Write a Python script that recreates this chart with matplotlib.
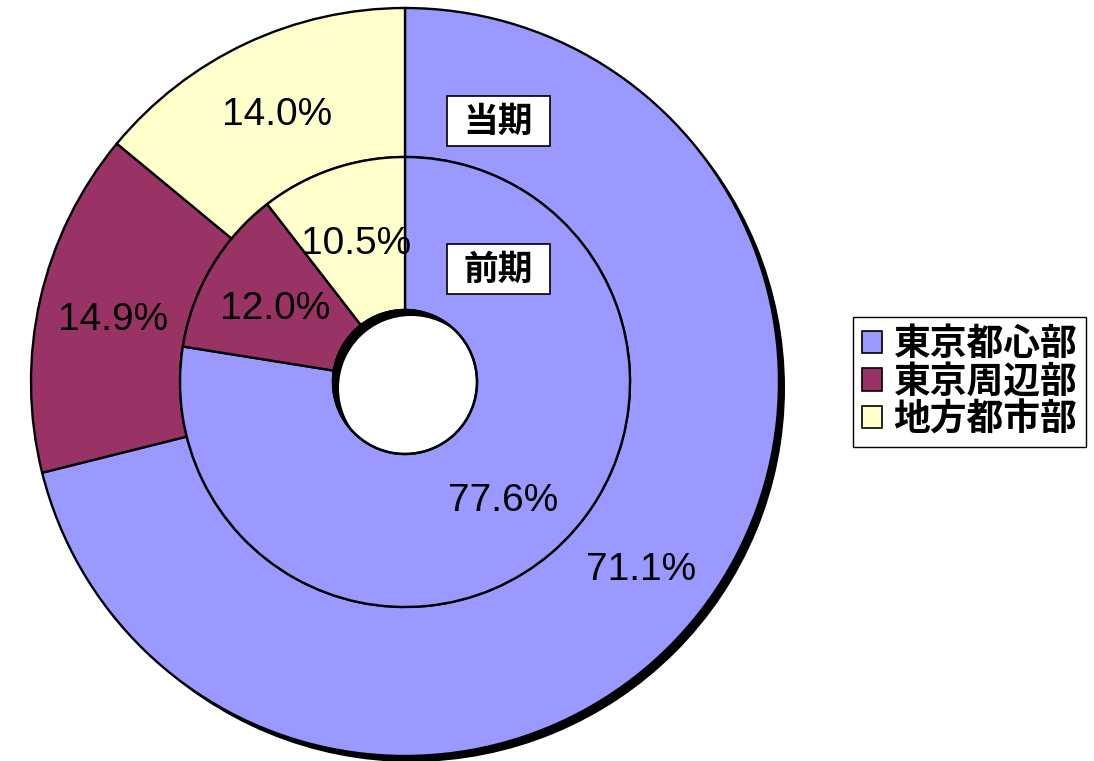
import numpy as np
import matplotlib
matplotlib.use("Agg")
import matplotlib.pyplot as plt
from matplotlib.patches import Wedge, Rectangle, Patch, Circle

categories = ["東京都心部", "東京周辺部", "地方都市部"]
current_vals = [71.1, 14.9, 14.0]   # 当期 (outer ring)
prev_vals = [77.6, 12.0, 10.5]      # 前期 (inner ring)
colors = ["#9999FF", "#993366", "#FFFFCC"]

CJK = ["Noto Sans CJK JP", "DejaVu Sans"]
NUM = ["Liberation Sans", "DejaVu Sans"]

fig = plt.figure(figsize=(10.94, 7.61), dpi=100)
ax = fig.add_axes([0, 0, 1, 1])

cx, cy = 405, 379
r_out, r_mid, r_hole = 374, 225, 72

#shadow of the whole donut, offset down-right
ax.add_patch(Wedge((cx+6, cy-6), r_out, 0, 360, width=r_out-r_hole,
                   facecolor="black", edgecolor="none", zorder=1))

wp = dict(edgecolor="black", linewidth=1.7)
outer, _ = ax.pie(current_vals, radius=r_out, center=(cx, cy), colors=colors,
                  startangle=90, counterclock=False,
                  wedgeprops=dict(width=r_out-r_mid, **wp), frame=True)
inner, _ = ax.pie(prev_vals, radius=r_mid, center=(cx, cy), colors=colors,
                  startangle=90, counterclock=False,
                  wedgeprops=dict(width=r_mid-r_hole, **wp), frame=True)
for w in outer + inner:
    w.set_zorder(2)
ax.set_xlim(0, 1094)
ax.set_ylim(0, 761)
ax.axis("off")

#hole outline (shadow shows through at upper left)
ax.add_patch(Circle((cx, cy), r_hole, facecolor="none",
                    edgecolor="black", linewidth=1.7, zorder=3))

def label_ring(wedges, vals, rr):
    for w, v in zip(wedges, vals):
        a = np.deg2rad((w.theta1 + w.theta2) / 2)
        ax.text(cx + rr*np.cos(a), cy + rr*np.sin(a) - 4, f"{v:.1f}%",
                ha="center", va="center", fontsize=28, family=NUM, zorder=5)

label_ring(outer, current_vals, (r_out + r_mid) / 2)
label_ring(inner, prev_vals, (r_mid + r_hole) / 2 + 2)

#ring name boxes
for txt, ytop in [("当期", 96), ("前期", 244)]:
    ax.add_patch(Rectangle((447, 761-ytop-50), 103, 50, facecolor="white",
                           edgecolor="black", linewidth=1.2, zorder=4))
    ax.text(498, 761-ytop-25, txt, ha="center", va="center", fontsize=25,
            fontweight="bold", family=CJK, zorder=5)

handles = [Patch(facecolor=c, edgecolor="black", linewidth=1.2) for c in colors]
leg = ax.legend(handles, categories, loc="center left",
                bbox_to_anchor=(853/1094, 1-382/761), prop=dict(family=CJK, size=26.5, weight="bold"),
                handlelength=0.55, handleheight=0.55, handletextpad=0.3,
                labelspacing=0.02, borderpad=0.25, borderaxespad=0,
                fancybox=False, framealpha=1)
leg.get_frame().set_edgecolor("black")
leg.get_frame().set_linewidth(1.0)

fig.savefig("out.png", dpi=100)
